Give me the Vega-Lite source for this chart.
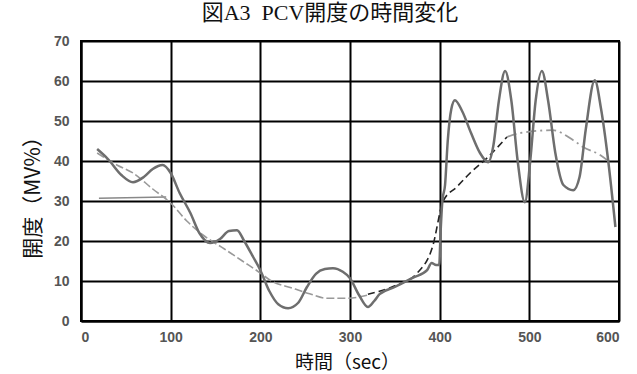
{
  "$schema": "https://vega.github.io/schema/vega-lite/v6.json",
  "width": 538,
  "height": 280,
  "autosize": {"type": "none"},
  "padding": {"left": 81, "top": 41, "right": 18, "bottom": 53},
  "background": "white",
  "title": {
    "text": "図A3\u00a0\u00a0PCV開度の時間変化",
    "anchor": "middle",
    "dx": -20,
    "offset": 9,
    "fontSize": 22,
    "fontWeight": "normal",
    "font": "Liberation Serif, Noto Sans CJK JP",
    "color": "#111"
  },
  "config": {
    "view": {"stroke": "black", "strokeWidth": 2},
    "axis": {
      "grid": true,
      "gridColor": "black",
      "gridWidth": 2,
      "gridOpacity": 1,
      "domainColor": "black",
      "domainWidth": 2,
      "ticks": false,
      "labelFont": "Liberation Sans",
      "labelFontWeight": "bold",
      "labelFontSize": 14,
      "labelColor": "#555",
      "titleFont": "Noto Sans CJK JP",
      "titleFontWeight": "normal",
      "titleColor": "#111"
    }
  },
  "data": {
    "values": [
      {"s": "main", "t": 18, "v": 43},
      {"s": "main", "t": 30, "v": 40.5},
      {"s": "main", "t": 45, "v": 36.5},
      {"s": "main", "t": 58, "v": 34.7},
      {"s": "main", "t": 70, "v": 36},
      {"s": "main", "t": 80, "v": 38},
      {"s": "main", "t": 91, "v": 39},
      {"s": "main", "t": 100, "v": 37},
      {"s": "main", "t": 110, "v": 32},
      {"s": "main", "t": 122, "v": 27},
      {"s": "main", "t": 132, "v": 22},
      {"s": "main", "t": 144, "v": 19.5},
      {"s": "main", "t": 155, "v": 20.5},
      {"s": "main", "t": 165, "v": 22.5},
      {"s": "main", "t": 174, "v": 22.7},
      {"s": "main", "t": 182, "v": 20},
      {"s": "main", "t": 192, "v": 16},
      {"s": "main", "t": 200, "v": 12.7},
      {"s": "main", "t": 210, "v": 7.5},
      {"s": "main", "t": 220, "v": 4.2},
      {"s": "main", "t": 231, "v": 3.2},
      {"s": "main", "t": 242, "v": 4.5},
      {"s": "main", "t": 252, "v": 8.5},
      {"s": "main", "t": 262, "v": 11.8},
      {"s": "main", "t": 272, "v": 13},
      {"s": "main", "t": 281, "v": 13.2},
      {"s": "main", "t": 292, "v": 12.3},
      {"s": "main", "t": 300, "v": 10.7},
      {"s": "main", "t": 310, "v": 6.5},
      {"s": "main", "t": 320, "v": 3.5},
      {"s": "main", "t": 327, "v": 5},
      {"s": "main", "t": 333, "v": 6.7},
      {"s": "main", "t": 350, "v": 8.5},
      {"s": "main", "t": 370, "v": 10.8},
      {"s": "main", "t": 386, "v": 12.7},
      {"s": "main", "t": 391, "v": 14.5},
      {"s": "main", "t": 396, "v": 14},
      {"s": "main", "t": 399.5, "v": 14},
      {"s": "main", "t": 401, "v": 22},
      {"s": "main", "t": 403, "v": 30},
      {"s": "main", "t": 406, "v": 34},
      {"s": "main", "t": 409, "v": 45},
      {"s": "main", "t": 413, "v": 53},
      {"s": "main", "t": 417, "v": 55.2},
      {"s": "main", "t": 425, "v": 52.5},
      {"s": "main", "t": 435, "v": 47},
      {"s": "main", "t": 445, "v": 42},
      {"s": "main", "t": 454, "v": 39.7},
      {"s": "main", "t": 460, "v": 44},
      {"s": "main", "t": 466, "v": 55},
      {"s": "main", "t": 473, "v": 62.5},
      {"s": "main", "t": 480, "v": 55},
      {"s": "main", "t": 487, "v": 40},
      {"s": "main", "t": 495, "v": 29.7},
      {"s": "main", "t": 501, "v": 40},
      {"s": "main", "t": 507, "v": 55},
      {"s": "main", "t": 514, "v": 62.5},
      {"s": "main", "t": 521, "v": 55},
      {"s": "main", "t": 529, "v": 42},
      {"s": "main", "t": 538, "v": 34},
      {"s": "main", "t": 549, "v": 32.7},
      {"s": "main", "t": 556, "v": 36},
      {"s": "main", "t": 563, "v": 48},
      {"s": "main", "t": 573, "v": 60.2},
      {"s": "main", "t": 580, "v": 53},
      {"s": "main", "t": 588, "v": 40},
      {"s": "main", "t": 596, "v": 23.5},

      {"s": "trend", "t": 18, "v": 42},
      {"s": "trend", "t": 40, "v": 39},
      {"s": "trend", "t": 58, "v": 37},
      {"s": "trend", "t": 80, "v": 33},
      {"s": "trend", "t": 100, "v": 29.5},
      {"s": "trend", "t": 118, "v": 25},
      {"s": "trend", "t": 136, "v": 21.5},
      {"s": "trend", "t": 160, "v": 18},
      {"s": "trend", "t": 180, "v": 15},
      {"s": "trend", "t": 200, "v": 12},
      {"s": "trend", "t": 211, "v": 10.2},
      {"s": "trend", "t": 236, "v": 8.2},
      {"s": "trend", "t": 255, "v": 6.8},
      {"s": "trend", "t": 274, "v": 5.7},
      {"s": "trend", "t": 297, "v": 5.7},
      {"s": "trend", "t": 320, "v": 6.5},

      {"s": "rise", "t": 320, "v": 6.7},
      {"s": "rise", "t": 350, "v": 8.8},
      {"s": "rise", "t": 375, "v": 12},
      {"s": "rise", "t": 392, "v": 18.5},
      {"s": "rise", "t": 404, "v": 30},
      {"s": "rise", "t": 419, "v": 33.5},
      {"s": "rise", "t": 434, "v": 37},
      {"s": "rise", "t": 454, "v": 41},
      {"s": "rise", "t": 475, "v": 46},

      {"s": "tail", "t": 475, "v": 46},
      {"s": "tail", "t": 490, "v": 47},
      {"s": "tail", "t": 526, "v": 47.7},
      {"s": "tail", "t": 549, "v": 45.2},
      {"s": "tail", "t": 560, "v": 43.5},
      {"s": "tail", "t": 579, "v": 41.5},
      {"s": "tail", "t": 588, "v": 40},

      {"s": "set", "t": 20, "v": 30.7},
      {"s": "set", "t": 95, "v": 31}
    ]
  },
  "encoding": {
    "x": {
      "field": "t",
      "type": "quantitative",
      "scale": {"domain": [0, 600], "nice": false, "zero": false},
      "axis": {
        "values": [0, 100, 200, 300, 400, 500, 600],
        "labelPadding": 9,
        "title": "時間（sec）",
        "titleFontSize": 19,
        "titleX": 266,
        "titleY": 41,
        "titleBaseline": "middle",
        "titleAlign": "center"
      }
    },
    "y": {
      "field": "v",
      "type": "quantitative",
      "scale": {"domain": [0, 70], "nice": false},
      "axis": {
        "values": [0, 10, 20, 30, 40, 50, 60, 70],
        "labelPadding": 12,
        "title": "開度（MV%）",
        "titleFontSize": 21,
        "titleX": -48,
        "titleY": 151,
        "titleAngle": -90,
        "titleBaseline": "middle",
        "titleAlign": "center"
      }
    }
  },
  "layer": [
    {
      "transform": [{"filter": "datum.s === 'set'"}],
      "mark": {"type": "line", "color": "#888", "strokeWidth": 1.5}
    },
    {
      "transform": [{"filter": "datum.s === 'trend'"}],
      "mark": {"type": "line", "color": "#999", "strokeWidth": 1.6, "strokeDash": [8, 3], "interpolate": "monotone"}
    },
    {
      "transform": [{"filter": "datum.s === 'tail'"}],
      "mark": {"type": "line", "color": "#999", "strokeWidth": 1.8, "strokeDash": [10, 4, 2, 4], "interpolate": "monotone"}
    },
    {
      "transform": [{"filter": "datum.s === 'rise'"}],
      "mark": {"type": "line", "color": "#222", "strokeWidth": 1.6, "strokeDash": [7, 4], "interpolate": "monotone"}
    },
    {
      "transform": [{"filter": "datum.s === 'main'"}],
      "mark": {"type": "line", "color": "#6e6e6e", "strokeWidth": 2.5, "interpolate": "monotone"}
    }
  ]
}
